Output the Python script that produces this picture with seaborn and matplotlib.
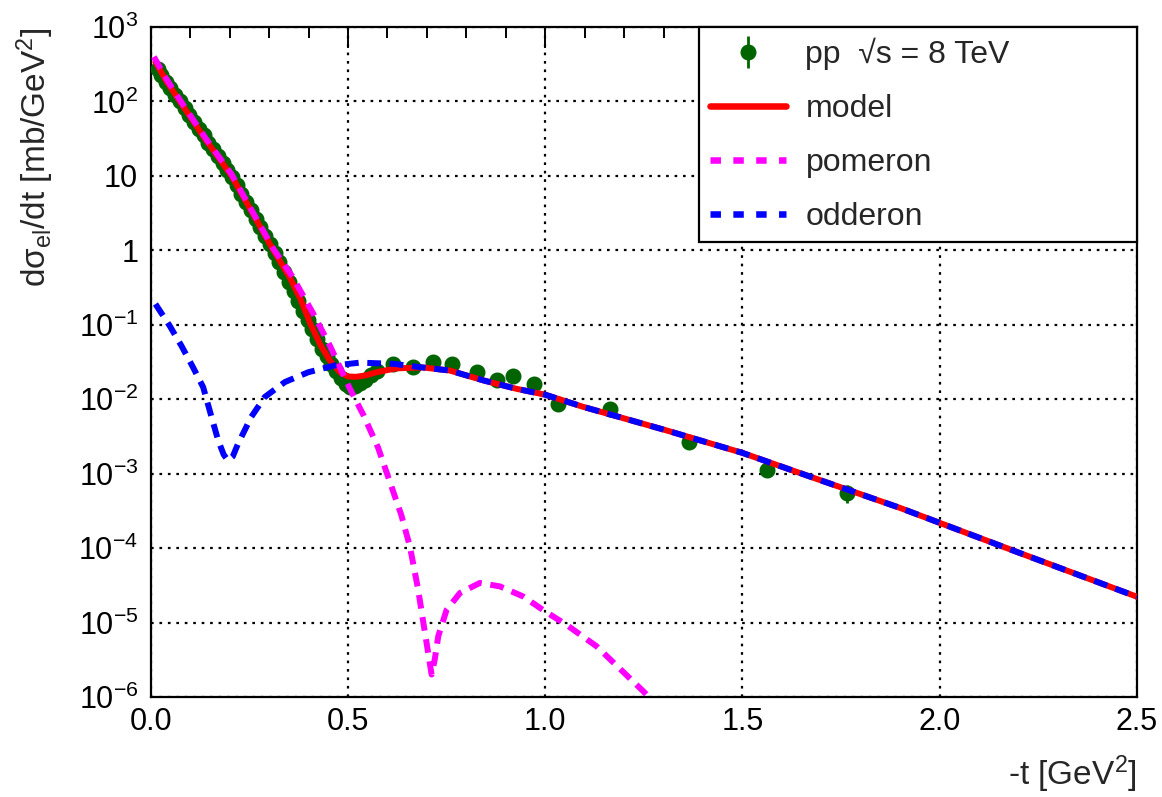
import numpy as np
import pandas as pd
import matplotlib
matplotlib.use("Agg")
import matplotlib.pyplot as plt
import seaborn as sns
from matplotlib.ticker import FixedLocator, MultipleLocator, LogLocator, NullFormatter
from matplotlib.lines import Line2D

# ---- data ----
data_t = [0.019, 0.027, 0.038, 0.050, 0.062, 0.074, 0.086, 0.098, 0.110, 0.122, 0.134,
          0.146, 0.158, 0.170, 0.182, 0.194, 0.206, 0.218, 0.230, 0.242, 0.254,
          0.266, 0.278, 0.290, 0.302, 0.314, 0.326, 0.338, 0.350, 0.362, 0.374,
          0.386, 0.398, 0.410, 0.422, 0.434, 0.446, 0.458, 0.470, 0.482, 0.494,
          0.506, 0.518, 0.530, 0.543, 0.558, 0.573, 0.615, 0.664, 0.715, 0.764,
          0.826, 0.877, 0.919, 0.971, 1.033, 1.164, 1.364, 1.563, 1.764]
data_y = [270, 224, 185, 150, 122, 100, 81, 66, 53, 43, 35,
          28, 23, 18.5, 15, 12, 9.8, 7.5, 5.8, 4.5, 3.45,
          2.65, 2.05, 1.58, 1.22, 0.93, 0.69, 0.51, 0.38, 0.28, 0.21,
          0.155, 0.115, 0.087, 0.065, 0.048, 0.038, 0.030, 0.024, 0.019, 0.0158,
          0.0145, 0.0150, 0.0165, 0.0179, 0.021, 0.0243, 0.0299, 0.0269, 0.032, 0.0299,
          0.023, 0.0182, 0.0208, 0.0158, 0.0085, 0.0075, 0.00267, 0.00111, 0.00055]
data_rel_err = [0.03] * 57 + [0.08, 0.11, 0.27]

model_t = [0.012, 0.04, 0.074, 0.14, 0.205, 0.26, 0.311, 0.353, 0.38, 0.404, 0.43,
           0.454, 0.48, 0.50, 0.52, 0.545, 0.573, 0.623, 0.69, 0.758, 0.843, 0.927,
           1.0, 1.096, 1.181, 1.308, 1.5, 1.688, 1.899, 2.2, 2.5]
model_y = [339, 186, 100, 30.2, 10.0, 3.02, 1.0, 0.427, 0.219, 0.105, 0.0537,
           0.0331, 0.0229, 0.0202, 0.0200, 0.0209, 0.0231, 0.0260, 0.0267, 0.0243, 0.0179, 0.0138,
           0.0115, 0.0079, 0.0059, 0.0038, 0.0019, 0.00085, 0.000347, 8.7e-5, 2.22e-5]

pomeron_t = [0.008, 0.04, 0.074, 0.14, 0.205, 0.26, 0.311, 0.36, 0.38, 0.412, 0.454,
             0.505, 0.54, 0.576, 0.606, 0.635, 0.657, 0.678, 0.691, 0.703, 0.712, 0.72,
             0.729, 0.75, 0.784, 0.834, 0.885, 0.944, 0.999, 1.054, 1.13, 1.248, 1.30]
pomeron_y = [398, 200, 105, 31.6, 10.5, 3.16, 1.05, 0.437, 0.282, 0.141, 0.0525,
             0.0138, 0.0060, 0.00226, 0.00078, 0.00028, 1.05e-4, 2.75e-5, 1.0e-5, 4.0e-6, 2.0e-6, 3.2e-6,
             6.6e-6, 1.48e-5, 2.5e-5, 3.4e-5, 3.06e-5, 2.24e-5, 1.42e-5, 9.3e-6, 4.8e-6, 1.2e-6, 6.3e-7]

odderon_t = [0.012, 0.048, 0.078, 0.107, 0.133, 0.154, 0.171, 0.185, 0.196, 0.208, 0.221,
             0.255, 0.289, 0.34, 0.399, 0.466, 0.53, 0.615, 0.683, 0.758, 0.843, 0.927,
             1.0, 1.096, 1.181, 1.308, 1.5, 1.688, 1.899, 2.2, 2.5]
odderon_y = [0.19, 0.097, 0.052, 0.027, 0.0145, 0.0058, 0.0028, 0.0018, 0.0015, 0.0017, 0.0025,
             0.0058, 0.0107, 0.017, 0.023, 0.0284, 0.031, 0.0299, 0.0269, 0.0243, 0.0179, 0.0138,
             0.0115, 0.0079, 0.0059, 0.0038, 0.0019, 0.00085, 0.000347, 8.7e-5, 2.22e-5]

labels = ["pp  \u221As = 8 TeV", "model", "pomeron", "odderon"]
xticks = [0.0, 0.5, 1.0, 1.5, 2.0, 2.5]
xticklabels = ["0.0", "0.5", "1.0", "1.5", "2.0", "2.5"]
yticks = [1e-6, 1e-5, 1e-4, 1e-3, 1e-2, 1e-1, 1, 10, 1e2, 1e3]
yticklabels = ["$10^{-6}$", "$10^{-5}$", "$10^{-4}$", "$10^{-3}$", "$10^{-2}$",
               "$10^{-1}$", "1", "10", "$10^{2}$", "$10^{3}$"]

# ---- style ----
sns.set_theme(style="white")
plt.rcParams['font.family'] = ['Liberation Sans', 'DejaVu Sans']
plt.rcParams['mathtext.fontset'] = 'custom'
plt.rcParams['mathtext.rm'] = 'Liberation Sans'
plt.rcParams['mathtext.it'] = 'Liberation Sans:italic'
plt.rcParams['mathtext.sf'] = 'Liberation Sans'
plt.rcParams['mathtext.default'] = 'regular'

GREEN = '#006400'
RED = '#ff0000'
MAGENTA = '#ff00ff'
BLUE = '#0000ff'
FS_TICK = 22
FS_LAB = 24
FS_LEG = 23
LW = 4.3

fig = plt.figure(figsize=(11.62, 7.97), dpi=100)
ax = fig.add_axes([0.1297, 0.1255, 0.8488, 0.8406])
ax.set_yscale('log')
ax.set_xlim(0, 2.5)
ax.set_ylim(1e-6, 1e3)

data_err = [y * e for y, e in zip(data_y, data_rel_err)]
eb = ax.errorbar(data_t, data_y, yerr=data_err, fmt='o', color=GREEN, ms=10.5,
                 elinewidth=2, capsize=0, zorder=3)

dash = (0, (2.3, 1.45))
sns.lineplot(x=model_t, y=model_y, ax=ax, color=RED, lw=LW, sort=False,
             estimator=None, legend=False, zorder=4)
sns.lineplot(x=pomeron_t, y=pomeron_y, ax=ax, color=MAGENTA, lw=LW, sort=False,
             estimator=None, legend=False, zorder=5, linestyle=dash)
sns.lineplot(x=odderon_t, y=odderon_y, ax=ax, color=BLUE, lw=LW, sort=False,
             estimator=None, legend=False, zorder=6, linestyle=dash)
for ln in ax.get_lines()[-3:]:
    ln.set_dash_capstyle('butt')

# ---- axes ----
ax.xaxis.set_major_locator(FixedLocator(xticks))
ax.set_xticklabels(xticklabels)
ax.xaxis.set_minor_locator(MultipleLocator(0.1))
ax.yaxis.set_major_locator(FixedLocator(yticks))
ax.set_yticklabels(yticklabels)
ax.yaxis.set_minor_locator(LogLocator(base=10, subs=np.arange(2, 10), numticks=100))
ax.yaxis.set_minor_formatter(NullFormatter())

ax.tick_params(axis='both', which='both', direction='in', top=True, right=False,
               colors='black', labelsize=FS_TICK, width=1.4)
ax.tick_params(axis='x', which='major', length=15, pad=7)
ax.tick_params(axis='x', which='minor', length=8)
ax.tick_params(axis='y', which='major', length=20, pad=9)
ax.tick_params(axis='y', which='minor', length=10)

for sp in ax.spines.values():
    sp.set_color('black')
    sp.set_linewidth(1.6)

ax.grid(True, which='major', color='black', linestyle=(0, (1.2, 2.6)), lw=1.6)
ax.set_axisbelow(True)

ax.set_xlabel("-t [GeV$^{2}$]", fontsize=FS_LAB, loc='right', labelpad=12)
ax.set_ylabel("d$\\sigma_{el}$/dt [mb/GeV$^{2}$]", fontsize=FS_LAB, loc='top', labelpad=16)

leg_dash = (0, (1.6, 1.9))
handles = [eb,
           Line2D([], [], color=RED, lw=LW + 0.4),
           Line2D([], [], color=MAGENTA, lw=LW + 0.4, linestyle=leg_dash, dash_capstyle='butt'),
           Line2D([], [], color=BLUE, lw=LW + 0.4, linestyle=leg_dash, dash_capstyle='butt')]
leg = ax.legend(handles, labels, loc='upper left', bbox_to_anchor=(0.556, 1.0, 0.444, 0.0),
                mode='expand', borderaxespad=0, fontsize=FS_LEG, frameon=True, fancybox=False,
                edgecolor='black', framealpha=1, handlelength=2.4, handletextpad=0.6,
                labelspacing=0.75, borderpad=0.33)
leg.get_frame().set_linewidth(1.6)

fig.savefig("out.png", dpi=100)
